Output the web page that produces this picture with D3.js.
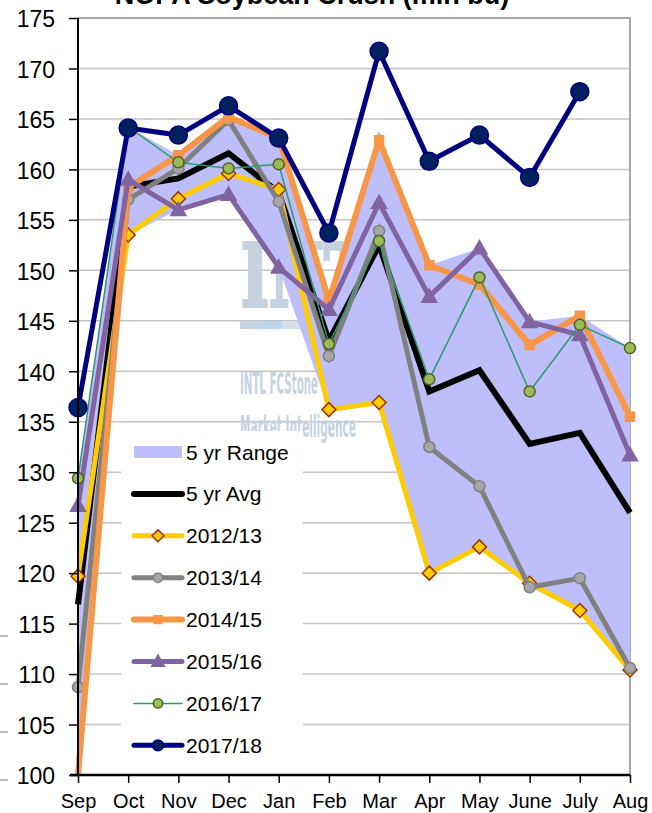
<!DOCTYPE html>
<html>
<head>
<meta charset="utf-8">
<script src="https://cdn.jsdelivr.net/npm/d3@7"></script>
<style>
  body { margin: 0; background: #fff; }
  svg { display: block; font-family: "Liberation Sans", Arial, sans-serif; }
</style>
</head>
<body>
<svg id="chart" width="652" height="813"></svg>
<script>
// Marketing year months
const months = ["Sep", "Oct", "Nov", "Dec", "Jan", "Feb", "Mar", "Apr", "May", "June", "July", "Aug"];
const yTicks = [100, 105, 110, 115, 120, 125, 130, 135, 140, 145, 150, 155, 160, 165, 170, 175];

// Monthly NOPA crush, million bushels
const rangeLow  = [100.0, 153.5, 156.0, 157.5, 150.3, 136.2, 136.9, 120.0, 122.6, 118.6, 116.3, 110.4];
const rangeHigh = [129.4, 164.2, 161.4, 165.2, 163.1, 147.0, 162.9, 150.5, 152.2, 144.9, 145.5, 142.3];
const avg5yr    = [116.9, 158.3, 159.1, 161.6, 157.7, 143.0, 152.5, 138.0, 140.1, 132.8, 133.9, 126.0];
const crush1213 = [119.7, 153.5, 157.1, 159.6, 158.0, 136.2, 136.9, 120.0, 122.6, 119.0, 116.3, 110.4];
const crush1314 = [108.7, 157.0, 160.1, 164.9, 156.8, 141.5, 153.9, 132.5, 128.6, 118.6, 119.5, 110.6];
const crush1415 = [100.0, 158.2, 161.4, 165.2, 163.1, 147.0, 162.9, 150.5, 148.6, 142.6, 145.5, 135.5];
const crush1516 = [126.7, 159.0, 156.0, 157.5, 150.3, 146.1, 156.7, 147.4, 152.2, 144.9, 143.6, 131.7];
const crush1617 = [129.4, 164.2, 160.7, 160.1, 160.5, 142.7, 152.9, 139.2, 149.3, 138.0, 144.6, 142.3];
const crush1718 = [136.4, 164.1, 163.4, 166.3, 163.1, 153.7, 171.7, 160.8, 163.4, 159.2, 167.7, null];

const series = [
  { name: "5 yr Avg", values: avg5yr,    color: "#000000", width: 6,   marker: null },
  { name: "2012/13",  values: crush1213, color: "#ffcc00", width: 5,   marker: "diamond",  fill: "#ffcc00", stroke: "#993300" },
  { name: "2013/14",  values: crush1314, color: "#808080", width: 5,   marker: "circle",   fill: "#a6a6a6", stroke: "#808080", r: 5.5 },
  { name: "2014/15",  values: crush1415, color: "#f79646", width: 6,   marker: "square",   fill: "#f79646", stroke: "#f79646" },
  { name: "2015/16",  values: crush1516, color: "#8064a2", width: 5,   marker: "triangle", fill: "#8064a2", stroke: "#8064a2" },
  { name: "2016/17",  values: crush1617, color: "#2e9a6b", width: 1.5, marker: "circle",   fill: "#9bbb59", stroke: "#4f6228", r: 5.5 },
  { name: "2017/18",  values: crush1718, color: "#000080", width: 5,   marker: "circle",   fill: "#002060", stroke: "#000080", r: 9 }
];

const svg = d3.select("#chart");
const plotLeft = 78, plotRight = 630, plotTop = 18, plotBottom = 775;

const x = d3.scalePoint().domain(months).range([plotLeft, plotRight]);
const y = d3.scaleLinear().domain([100, 175]).range([plotBottom, plotTop]);

// Series below the x axis line are clipped away
svg.append("defs").append("clipPath").attr("id", "plot-clip")
  .append("rect").attr("x", 0).attr("y", 0).attr("width", 652).attr("height", plotBottom);

// Title
svg.append("text")
  .attr("x", 312).attr("y", 4)
  .attr("text-anchor", "middle")
  .attr("font-size", 27).attr("font-weight", "bold")
  .text("NOPA Soybean Crush (mln bu)");

// Gridlines
svg.append("g")
  .selectAll("line")
  .data(yTicks.filter(t => t > 100 && t < 175))
  .join("line")
  .attr("x1", plotLeft).attr("x2", plotRight)
  .attr("y1", d => y(d)).attr("y2", d => y(d))
  .attr("stroke", "#c4c4c4").attr("stroke-width", 1.5);

// Plot frame (top and right)
svg.append("path")
  .attr("d", `M${plotLeft},${plotTop}H${plotRight}V${plotBottom}`)
  .attr("fill", "none").attr("stroke", "#8c8c8c").attr("stroke-width", 1.5);

// Watermark
const wm = svg.append("g").attr("fill", "#c6d3de");
wm.append("text").attr("x", 241).attr("y", 306)
  .attr("font-family", "'DejaVu Serif', serif").attr("font-weight", "bold")
  .attr("font-size", 86).attr("textLength", 170).attr("lengthAdjust", "spacingAndGlyphs")
  .attr("stroke", "#c6d3de").attr("stroke-width", 4)
  .text("INTL");
wm.append("rect").attr("x", 240).attr("y", 321).attr("width", 20).attr("height", 8).attr("fill", "#c5d3de");
wm.append("rect").attr("x", 260).attr("y", 321).attr("width", 22).attr("height", 8).attr("fill", "#bcd6ec");
wm.append("rect").attr("x", 282).attr("y", 321).attr("width", 40).attr("height", 8).attr("fill", "#d5dfe7");
wm.append("text").attr("x", 240).attr("y", 394)
  .attr("font-family", "'Liberation Sans Narrow', 'DejaVu Sans Condensed', sans-serif")
  .attr("font-weight", "bold")
  .attr("font-size", 30).attr("textLength", 78).attr("lengthAdjust", "spacingAndGlyphs")
  .text("INTL FCStone");
wm.append("text").attr("x", 240).attr("y", 437)
  .attr("font-family", "'Liberation Sans Narrow', 'DejaVu Sans Condensed', sans-serif")
  .attr("font-weight", "bold")
  .attr("font-size", 30).attr("textLength", 116).attr("lengthAdjust", "spacingAndGlyphs")
  .text("Market Intelligence");

const plot = svg.append("g").attr("clip-path", "url(#plot-clip)");

// 5-year range band
const area = d3.area()
  .x((d, i) => x(months[i]))
  .y0((d, i) => y(rangeLow[i]))
  .y1(d => y(d));
plot.append("path")
  .datum(rangeHigh)
  .attr("d", area)
  .attr("fill", "#bebefa");

// Marker shapes
function markerPath(type, s) {
  if (type === "diamond") return `M0,${-s}L${s},0L0,${s}L${-s},0Z`;
  if (type === "square") return `M${-s},${-s}H${s}V${s}H${-s}Z`;
  if (type === "triangle") return `M0,${-s}L${s},${s * 0.75}L${-s},${s * 0.75}Z`;
  return null;
}
function drawMarker(g, s, cx, cy, scale) {
  if (!s.marker) return;
  if (s.marker === "circle") {
    g.append("circle").attr("cx", cx).attr("cy", cy).attr("r", s.r * scale)
      .attr("fill", s.fill).attr("stroke", s.stroke).attr("stroke-width", 1.5);
  } else {
    const size = s.marker === "diamond" ? 7 : s.marker === "triangle" ? 7.5 : 4.5;
    g.append("path").attr("transform", `translate(${cx},${cy})`)
      .attr("d", markerPath(s.marker, size * scale))
      .attr("fill", s.fill).attr("stroke", s.stroke).attr("stroke-width", 1.5);
  }
}

const line = d3.line()
  .defined(d => d != null)
  .x((d, i) => x(months[i]))
  .y(d => y(d));

series.forEach(s => {
  const g = plot.append("g");
  g.append("path")
    .datum(s.values)
    .attr("d", line)
    .attr("fill", "none")
    .attr("stroke", s.color)
    .attr("stroke-width", s.width)
    .attr("stroke-linejoin", "miter");
  s.values.forEach((v, i) => {
    // markers sitting on the axis floor are hidden by it
    if (v != null && v > 100) drawMarker(g, s, x(months[i]), y(v), 1);
  });
});

// Axes
const yAxis = svg.append("g").attr("transform", `translate(${plotLeft},0)`)
  .call(d3.axisLeft(y).tickValues(yTicks).tickSize(9).tickPadding(14).tickFormat(d3.format("d")));
yAxis.select(".domain").attr("stroke", "#000").attr("stroke-width", 2).attr("d", `M0,${plotTop}V${plotBottom}`);
yAxis.selectAll(".tick line").attr("stroke", "#000").attr("stroke-width", 1.5);
yAxis.selectAll(".tick text").attr("font-size", 23).attr("fill", "#000")
  .attr("font-family", "'Liberation Sans', Arial, sans-serif").attr("dy", "0.38em");

const xAxis = svg.append("g").attr("transform", `translate(0,${plotBottom})`)
  .call(d3.axisBottom(x).tickSize(8).tickPadding(10));
xAxis.select(".domain").attr("stroke", "#000").attr("stroke-width", 2.5).attr("d", `M${plotLeft - 8},0H${plotRight}`);
xAxis.selectAll(".tick line").attr("stroke", "#000").attr("stroke-width", 1.5);
xAxis.selectAll(".tick text").attr("font-size", 20).attr("fill", "#000")
  .attr("font-family", "'Liberation Sans', Arial, sans-serif").attr("dy", "0.75em");

// Legend
const legend = svg.append("g");
legend.append("rect").attr("x", 121).attr("y", 431).attr("width", 182).attr("height", 339).attr("fill", "#fff");
const legendItems = [{ name: "5 yr Range", band: true }].concat(series);
legendItems.forEach((s, i) => {
  const cy = 452 + i * 41.9;
  const g = legend.append("g");
  if (s.band) {
    g.append("rect").attr("x", 134).attr("y", cy - 6).attr("width", 48).attr("height", 12).attr("fill", "#bebefa");
  } else {
    g.append("line").attr("x1", 134).attr("x2", 182).attr("y1", cy).attr("y2", cy)
      .attr("stroke", s.color).attr("stroke-width", s.width).attr("stroke-linecap", "round");
    drawMarker(g, s, 158, cy, s.marker === "circle" && s.r > 6 ? 0.6 : 0.85);
  }
  g.append("text").attr("x", 186).attr("y", cy).attr("dy", "0.36em")
    .attr("font-size", 21).attr("fill", "#000").text(s.name);
});

// Small stubs along the left edge
svg.append("g").selectAll("line").data([636, 684, 732, 780]).join("line")
  .attr("x1", 0).attr("x2", 8).attr("y1", d => d).attr("y2", d => d)
  .attr("stroke", "#bdbdbd").attr("stroke-width", 2);
</script>
</body>
</html>
